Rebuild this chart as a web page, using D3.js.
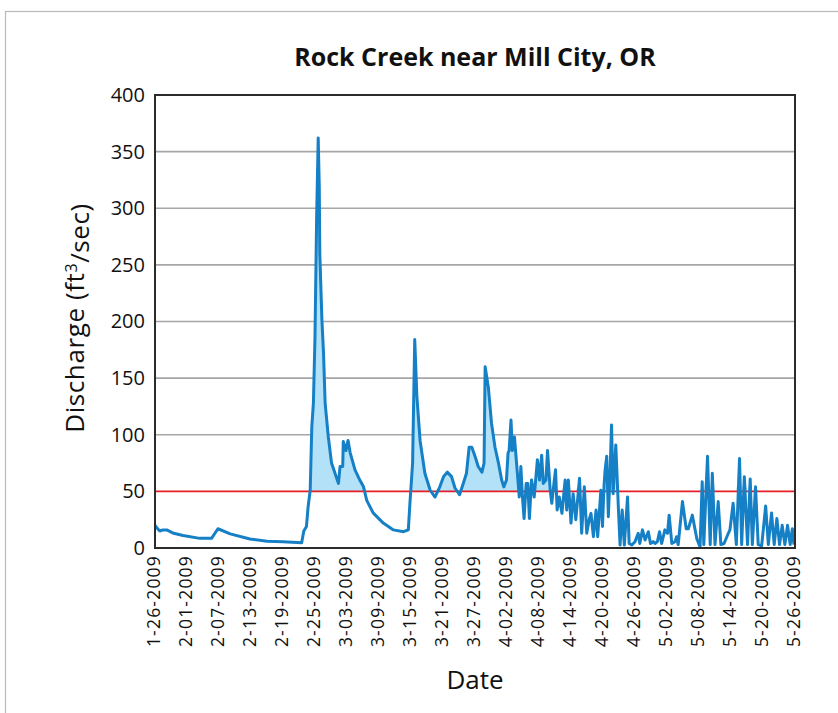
<!DOCTYPE html>
<html>
<head>
<meta charset="utf-8">
<script src="https://cdn.jsdelivr.net/npm/d3@7"></script>
<style>
  html, body { margin: 0; padding: 0; background: #fff; }
  svg { display: block; }
  text { font-family: "Open Sans", "Noto Sans", sans-serif; fill: #111; }
</style>
</head>
<body>
<svg id="chart" width="838" height="713"></svg>
<script>
// ---- Data (day offset from 1-26-2009, discharge ft3/sec) ----
const febFlow = [
  [0, 20], [0.5, 17], [0.9, 15], [1.5, 16], [2.2, 16], [3.5, 13], [5.25, 11], [8.4, 8.5], [10.6, 8.5], [11.8, 17],
  [14.1, 12.5], [17.8, 8], [21, 6], [24, 5.6], [27.5, 4.7], [27.9, 15], [28.4, 19],
  [28.7, 36], [29.1, 51], [29.4, 107], [29.7, 128], [30.0, 187], [30.3, 290],
  [30.6, 362], [30.8, 319], [30.9, 260], [31.3, 201], [31.6, 172], [31.9, 128],
  [32.5, 98], [33.1, 75], [33.75, 66], [34.4, 57]
];
const marFlow = [
  [34.7, 72], [35.2, 72], [35.3, 94], [35.8, 86], [36.2, 95], [36.6, 84],
  [37.5, 69], [38.4, 60], [39.1, 54], [39.7, 42], [40.9, 31], [42.8, 22], [44.7, 16],
  [46.6, 14.4], [47.5, 16], [47.8, 39.7], [48.3, 75], [48.7, 184], [49.1, 134],
  [49.7, 95], [50.6, 66], [51.6, 51], [52.5, 45], [53.4, 54], [54.1, 63], [54.8, 67],
  [55.6, 63], [56.25, 53], [57.1, 47], [57.8, 57], [58.4, 66], [58.9, 89], [59.4, 89],
  [60, 81], [60.6, 72], [61.3, 67], [61.7, 75], [61.9, 160], [62.5, 142], [63.1, 110],
  [63.75, 89], [64.4, 75], [65, 60], [65.4, 54], [65.9, 60]
];
const aprFlow = [
  [66.2, 84], [66.4, 86], [66.75, 113], [67, 86], [67.4, 98], [67.6, 86],
  [68.1, 57], [68.3, 45], [68.6, 72], [68.9, 45], [69.2, 26], [69.6, 57], [69.9, 57],
  [70.2, 26], [70.6, 60], [71.1, 45], [71.7, 78], [72.1, 60], [72.5, 82], [72.8, 57],
  [73.3, 60], [73.6, 86], [74.1, 51], [74.4, 39.5], [74.8, 57], [75.1, 69], [75.4, 33.5],
  [75.8, 45], [76.3, 30.6], [76.9, 60], [77.2, 33.5], [77.5, 60], [78, 22], [78.4, 48],
  [78.9, 25], [79.6, 61.5], [80, 13], [80.5, 54], [80.95, 13], [81.4, 25], [81.75, 30.6],
  [82.2, 10], [82.7, 33.5], [83, 10], [83.6, 51], [83.9, 19], [84.2, 55.6], [84.4, 69],
  [84.7, 81], [85, 27.6], [85.3, 63], [85.6, 108.6], [85.9, 48], [86.4, 91], [86.9, 33.5],
  [87.2, 2.6], [87.6, 33.5], [88, 2.6], [88.6, 45], [88.9, 4], [89.4, 2.6], [90, 5.6],
  [90.6, 13], [90.9, 4], [91.4, 16], [91.9, 7], [92.5, 14.4], [92.9, 4], [93.4, 5.6],
  [93.75, 4], [94.2, 5.6], [94.6, 14.4], [95, 4]
];
const mayFlow = [
  [95.6, 16], [96.1, 13], [96.4, 29], [96.9, 4], [97.5, 5.6], [97.8, 10], [98.1, 3],
  [98.9, 41], [99.6, 17], [100, 17], [100.75, 29], [101.6, 8], [102.2, 1], [102.6, 58.5],
  [102.9, 3], [103.6, 81], [104.1, 3], [104.5, 66], [105, 3], [105.6, 41], [106.1, 3],
  [106.7, 4], [107.5, 13], [107.8, 16], [108.4, 39.5], [109, 3], [109.6, 79], [110, 3],
  [110.5, 63], [111.1, 3], [111.6, 61], [112, 3], [112.6, 54], [113.1, 3], [113.75, 2],
  [114.5, 37], [115, 3], [115.6, 31], [116.1, 3], [116.6, 26], [117.1, 3], [117.6, 20],
  [118.1, 3], [118.6, 20], [119.1, 3], [119.5, 17], [119.8, 3]
];
const xTickLabels = ["1-26-2009","2-01-2009","2-07-2009","2-13-2009","2-19-2009","2-25-2009",
  "3-03-2009","3-09-2009","3-15-2009","3-21-2009","3-27-2009","4-02-2009","4-08-2009",
  "4-14-2009","4-20-2009","4-26-2009","5-02-2009","5-08-2009","5-14-2009","5-20-2009","5-26-2009"];
const yTicks = [0, 50, 100, 150, 200, 250, 300, 350, 400];
const threshold = 50;
const startDate = "1-26-2009";
const endDate = "5-26-2009";

// ---- Build ----
const parse = d3.utcParse("%m-%d-%Y");
const t0 = parse(startDate);
const DAY = 86400000;
const series = [...febFlow, ...marFlow, ...aprFlow, ...mayFlow]
  .map(([d, v]) => ({ date: new Date(t0.getTime() + d * DAY), value: v }));

const svg = d3.select("#chart");
const margin = { left: 155, right: 795, top: 95, bottom: 548 };

const x = d3.scaleUtc().domain([t0, parse(endDate)]).range([margin.left, margin.right]);
const y = d3.scaleLinear().domain([0, 400]).range([margin.bottom, margin.top]);

// outer frame
svg.append("rect").attr("x", 5.5).attr("y", 11.5).attr("width", 850).attr("height", 720)
  .attr("fill", "none").attr("stroke", "#b9b9b9").attr("stroke-width", 1.2);

// gridlines
svg.append("g").selectAll("line").data(yTicks.filter(t => t > 0 && t < 400 && t !== threshold))
  .join("line")
  .attr("x1", margin.left).attr("x2", margin.right)
  .attr("y1", d => y(d)).attr("y2", d => y(d))
  .attr("stroke", "#a6a6a8").attr("stroke-width", 1.6);

// fill above threshold
const area = d3.area()
  .x(d => x(d.date))
  .y0(y(threshold))
  .y1(d => y(Math.max(d.value, threshold)));
svg.append("path").datum(series).attr("d", area).attr("fill", "#b2e1f8");

// threshold line
svg.append("line")
  .attr("x1", margin.left).attr("x2", margin.right)
  .attr("y1", y(threshold)).attr("y2", y(threshold))
  .attr("stroke", "#e61e25").attr("stroke-width", 1.6);

// data line
const line = d3.line().x(d => x(d.date)).y(d => y(d.value));
svg.append("path").datum(series).attr("d", line)
  .attr("fill", "none").attr("stroke", "#1580c6").attr("stroke-width", 3)
  .attr("stroke-linejoin", "round");

// plot frame
svg.append("rect")
  .attr("x", margin.left).attr("y", margin.top)
  .attr("width", margin.right - margin.left).attr("height", margin.bottom - margin.top)
  .attr("fill", "none").attr("stroke", "#2b2b2b").attr("stroke-width", 2);

// y axis
const yAxis = d3.axisLeft(y).tickValues(yTicks).tickSize(0).tickPadding(10);
const gy = svg.append("g").attr("transform", `translate(${margin.left},0)`).call(yAxis);
gy.select(".domain").remove();
gy.selectAll("text").style("font-size", "20px").style("font-family", "'Open Sans', sans-serif").attr("fill", "#111");

// x axis
const xAxis = d3.axisBottom(x).tickValues(xTickLabels.map(parse)).tickSize(0)
  .tickFormat((d, i) => xTickLabels[i]);
const gx = svg.append("g").attr("transform", `translate(0,${margin.bottom})`).call(xAxis);
gx.select(".domain").remove();
gx.selectAll("text")
  .attr("transform", "rotate(-90)")
  .attr("text-anchor", "end")
  .attr("x", -7).attr("y", -2).attr("dy", "0.35em")
  .style("font-size", "17.5px").style("letter-spacing", "1.2px")
  .style("font-family", "'Open Sans', sans-serif").attr("fill", "#111");

// title
svg.append("text").attr("x", 475).attr("y", 66).attr("text-anchor", "middle")
  .style("font-size", "25px").style("font-weight", "bold")
  .text("Rock Creek near Mill City, OR");

// y label
const yl = svg.append("text").attr("transform", "translate(84,318) rotate(-90)")
  .attr("text-anchor", "middle").style("font-size", "26px").style("letter-spacing", "0.6px");
yl.append("tspan").text("Discharge (ft");
yl.append("tspan").attr("dy", "-0.45em").style("font-size", "16px").text("3");
yl.append("tspan").attr("dy", "0.45em").text("/sec)");

// x label
svg.append("text").attr("x", 475).attr("y", 689).attr("text-anchor", "middle")
  .style("font-size", "26px").text("Date");
</script>
</body>
</html>
